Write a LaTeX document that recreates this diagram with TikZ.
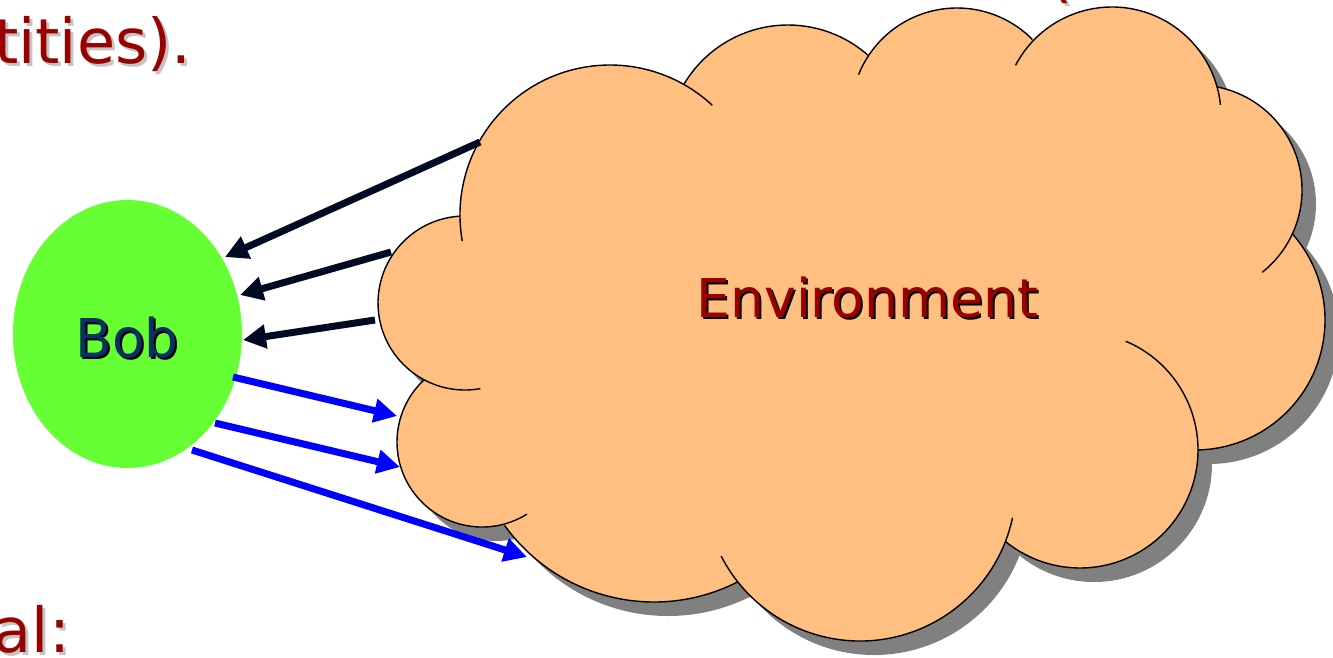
\documentclass[tikz,border=0pt]{standalone}
\usepackage{fontspec}
\setmainfont{DejaVu Sans}
\usetikzlibrary{arrows.meta,shapes.geometric}
\definecolor{peach}{HTML}{FFBF80}
\definecolor{cloudshadow}{HTML}{808080}
\definecolor{bobgreen}{HTML}{66FF33}
\definecolor{slidered}{HTML}{990000}
\definecolor{bobblue}{HTML}{0A2F63}
\definecolor{darkarrow}{HTML}{000A22}
\definecolor{textshadow}{HTML}{C4C4C4}
\begin{document}
\begin{tikzpicture}[x=1pt,y=-1pt,
  slidetext/.style={font=\fontsize{62}{70}\selectfont, inner sep=0pt},
  labeltext/.style={font=\fontsize{53.5}{60}\selectfont, inner sep=0pt, anchor=base},
  lobeline/.style={draw=black, line width=1.4pt},
  inarrow/.style={draw=darkarrow, line width=7pt, -{Triangle[length=23pt,width=23pt]}},
  outarrow/.style={draw=blue, line width=7pt, -{Triangle[length=23pt,width=23pt]}}]
\useasboundingbox (0,0) rectangle (1333,657);

% slide text (partially visible)
\node[slidetext, anchor=base east, text=textshadow] (t1s) at (194.7,66) {tities).};
\node[slidetext, anchor=base east, text=slidered] (t1) at (191.7,63) {tities).};
\node[slidetext, anchor=base east, text=textshadow] (t2s) at (73.2,655) {al:};
\node[slidetext, anchor=base east, text=slidered] (t2) at (70.2,652) {al:};
\node[slidetext, anchor=base west, text=textshadow] (t3s) at (1051,-2) {(};
\node[slidetext, anchor=base west, text=slidered] (t3) at (1048,-5) {(};

% cloud shadow
\fill[cloudshadow, shift={(14,14)}]
  (460,216) -- (684,84) -- (868,56) -- (1032,40) -- (1217,87) -- (1293,232)
  -- (1198,450) -- (1005,541) -- (738,582) -- (504,524) -- (424,380) -- cycle
  \foreach \cx/\cy/\r in {610/215/150, 788/146/121, 957/114/106, 1112/116/109,
     1197/190/105, 1195/320/130, 1080/450/118, 860/485/156, 654/418/184,
     482/442/85, 465/303/87} { (\cx,\cy) circle[radius=\r] };
% cloud body
\fill[peach]
  (460,216) -- (684,84) -- (868,56) -- (1032,40) -- (1217,87) -- (1293,232)
  -- (1198,450) -- (1005,541) -- (738,582) -- (504,524) -- (424,380) -- cycle
  \foreach \cx/\cy/\r in {610/215/150, 788/146/121, 957/114/106, 1112/116/109,
     1197/190/105, 1195/320/130, 1080/450/118, 860/485/156, 654/418/184,
     482/442/85, 465/303/87} { (\cx,\cy) circle[radius=\r] };
% cloud outline arcs
\foreach \cx/\cy/\r/\a/\b in {610/215/150/170/313, 788/146/121/210.6/311.7,
    957/114/106/201.8/315.3, 1112/116/109/207.7/354.1, 1197/190/105/281/411.6,
    1195/320/130/-41.8/88.7, 1080/450/118/-67.2/129.2, 860/485/156/12.1/152.9,
    654/418/184/62.9/144.3, 482/442/85/58.1/227.1, 465/303/87/79.8/266.7}
  \draw[lobeline] (\cx,\cy) ++(\a:\r) arc[start angle=\a, end angle=\b, radius=\r];

% Environment label
\node[labeltext, text=black] (envs) at (869.5,319) {Environment};
\node[labeltext, text=slidered] (env) at (867.5,317) {Environment};

% Bob
\node[ellipse, fill=bobgreen, draw=none, inner sep=0pt,
      minimum width=229pt, minimum height=268pt] (bob) at (127.5,334) {};
\node[labeltext, text=black] (bobs) at (129,359) {Bob};
\node[labeltext, text=bobblue] (boblabel) at (127,357) {Bob};

% connector end points
\coordinate (e1) at (480,142);
\coordinate (e2) at (391,252);
\coordinate (e3) at (375,320);
\coordinate (b1) at (225,257);
\coordinate (b2) at (240,295);
\coordinate (b3) at (243,340);
\coordinate (b4) at (233,377);
\coordinate (b5) at (215,423);
\coordinate (b6) at (192,450);
\coordinate (e4) at (397,416);
\coordinate (e5) at (400,467);
\coordinate (e6) at (527,557);

\draw[inarrow] (e1) -- (b1);
\draw[inarrow] (e2) -- (b2);
\draw[inarrow] (e3) -- (b3);
\draw[outarrow] (b4) -- (e4);
\draw[outarrow] (b5) -- (e5);
\draw[outarrow] (b6) -- (e6);
\end{tikzpicture}
\end{document}
